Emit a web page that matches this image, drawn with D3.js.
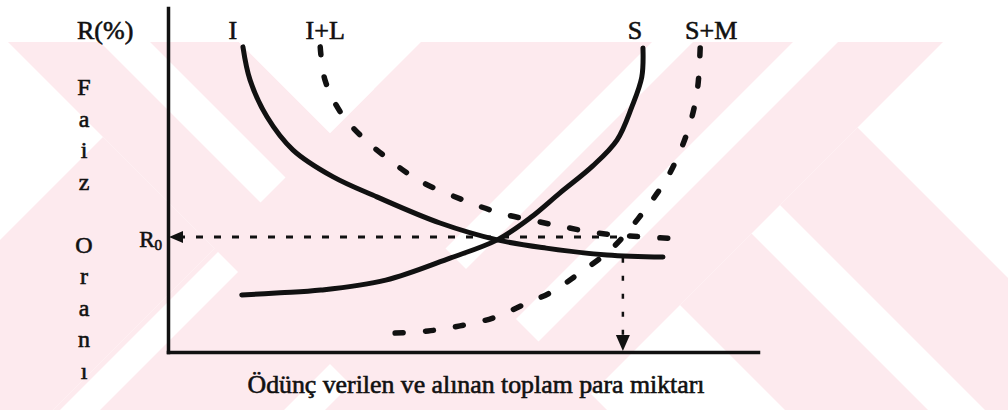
<!DOCTYPE html>
<html>
<head>
<meta charset="utf-8">
<script src="https://cdn.jsdelivr.net/npm/d3@7"></script>
<style>
  body { margin: 0; background: #fff; }
  svg { display: block; }
  text { font-family: "Liberation Serif", "Times New Roman", Tinos, serif; }
</style>
</head>
<body>
<div id="chart"></div>
<script>
// curves, in axis units (0-100 on both axes)
const iCurve = [[12.7,88.7],[13.9,79.1],[16.8,68.3],[21.2,58.7],[28.0,50.9],[35.4,45.1],[46.1,37.5],[55.8,32.6],[64.1,30.2],[74.4,28.2],[83.9,27.6]];
const sCurve = [[12.5,16.6],[19.0,17.2],[25.9,18.0],[36.9,20.9],[47.8,27.3],[55.8,32.6],[61.4,39.0],[66.4,46.2],[72.0,54.1],[76.1,61.6],[78.6,71.2],[80.3,79.9],[80.5,88.4]];
const ilCurve = [[25.8,88.7],[26.6,79.1],[29.2,69.8],[32.9,62.5],[36.9,56.7],[42.4,50.0],[50.0,44.2],[56.3,40.4],[62.2,38.1],[67.3,36.3],[72.7,34.6],[78.3,33.7],[84.7,33.1]];
const smCurve = [[38.5,5.5],[44.1,6.1],[49.5,7.6],[55.1,9.9],[60.2,13.7],[65.3,17.7],[69.8,23.0],[74.4,28.8],[77.1,33.4],[81.7,43.3],[84.7,50.9],[87.1,59.6],[88.8,68.3],[89.8,77.3],[90.2,88.4]];

const seriesNames = ["I", "I+L", "S", "S+M"];
const r0Level = 33.4;     // R0
const newQty = 77.1;      // quantity at the new equilibrium
const dropTop = 27.4;     // where the vertical guide starts
const yTitle = "R(%)";
const yLetters = ["F","a","i","z","","O","r","a","n","ı"];
const xTitle = "Ödünç verilen ve alınan toplam para miktarı";

const W = 1008, H = 410;
const ink = "#111";
const pink = "#fdeaee";

const svg = d3.select("#chart")
  .append("svg")
  .attr("width", W)
  .attr("height", H);

svg.append("rect").attr("width", W).attr("height", H).attr("fill", "#fff");

// background watermark (diagonal pink ribbons), u = x - y, v = x + y
const BIG = 3000;
const wmPink = [
  {u:[-34,197], v:[-BIG,BIG]},
  {u:[-BIG,BIG], v:[463,694]},
  {u:[-BIG,-34], v:[240,463]},
  {u:[-BIG,BIG], v:[735,985]},
  {u:[375,518], v:[985,BIG]},
  {u:[575,730], v:[985,BIG]}
];
const wmWhite = [
  {u:[58,108], v:[-BIG,463]},
  {u:[-BIG,-34], v:[470,510]},
  {u:[197,BIG], v:[835,880]},
  {u:[197,285], v:[-BIG,463]}
];
const toXY = (u, v) => [(u + v) / 2, (v - u) / 2];
const band = b => [toXY(b.u[0], b.v[0]), toXY(b.u[1], b.v[0]), toXY(b.u[1], b.v[1]), toXY(b.u[0], b.v[1])]
  .map(p => p.join(",")).join(" ");

svg.append("clipPath").attr("id", "wm-clip")
  .append("rect").attr("x", 0).attr("y", 42).attr("width", W).attr("height", H - 42);

const wm = svg.append("g").attr("clip-path", "url(#wm-clip)");
wm.selectAll(".wp").data(wmPink).enter().append("polygon")
  .attr("class", "wp").attr("points", band).attr("fill", pink);
wm.selectAll(".ww").data(wmWhite).enter().append("polygon")
  .attr("class", "ww").attr("points", band).attr("fill", "#fff");

// scales
const x = d3.scaleLinear().domain([0, 100]).range([168, 758]);
const y = d3.scaleLinear().domain([0, 100]).range([352, 8]);

const line = d3.line()
  .x(d => x(d[0]))
  .y(d => y(d[1]))
  .curve(d3.curveCatmullRom.alpha(0.5));

// axes (no ticks, just the frame lines)
svg.append("g")
  .attr("class", "y-axis")
  .attr("transform", `translate(${x(0)},0)`)
  .call(d3.axisLeft(y).tickValues([]).tickSizeOuter(0));
svg.append("g")
  .attr("class", "x-axis")
  .attr("transform", `translate(0,${y(0)})`)
  .call(d3.axisBottom(x).tickValues([]).tickSizeOuter(0));
svg.selectAll(".domain")
  .attr("stroke", ink)
  .attr("stroke-width", 3.5)
  .attr("stroke-linecap", "square");

// R0 guide
svg.append("line")
  .attr("x1", x(0) + 10).attr("x2", x(newQty))
  .attr("y1", y(r0Level)).attr("y2", y(r0Level))
  .attr("stroke", ink).attr("stroke-width", 3)
  .attr("stroke-dasharray", "7,11");
svg.append("path")
  .attr("d", `M${x(0) + 1},${y(r0Level)} l14,-6 l0,12 z`)
  .attr("fill", ink);

// drop to the quantity axis
svg.append("line")
  .attr("x1", x(newQty)).attr("x2", x(newQty))
  .attr("y1", y(dropTop)).attr("y2", y(0) - 14)
  .attr("stroke", ink).attr("stroke-width", 2.5)
  .attr("stroke-dasharray", "5,13");
svg.append("path")
  .attr("d", `M${x(newQty)},${y(0) - 1} l-7,-16 l14,0 z`)
  .attr("fill", ink);

// curves
const series = [
  {name: "I", pts: iCurve, dashed: false, dx: -10},
  {name: "I+L", pts: ilCurve, dashed: true, dx: 5},
  {name: "S", pts: sCurve, dashed: false, dx: -8},
  {name: "S+M", pts: smCurve, dashed: true, dx: 11}
];

const dashLen = 8;
svg.selectAll(".curve")
  .data(series)
  .enter()
  .append("path")
  .attr("class", "curve")
  .attr("d", d => line(d.pts))
  .attr("fill", "none")
  .attr("stroke", ink)
  .attr("stroke-width", d => d.dashed ? 5.5 : 5)
  .attr("stroke-linecap", "round")
  .each(function(d) {
    if (!d.dashed) return;
    // fit the dash period so both ends finish on a dash
    const L = this.getTotalLength();
    const n = Math.round((L - dashLen) / 31);
    const gap = (L - dashLen) / n - dashLen;
    d3.select(this).attr("stroke-dasharray", `${dashLen},${gap}`);
  });

const txt = svg.append("g").attr("fill", ink).attr("stroke", ink).attr("stroke-width", 0.6);

// curve names above the top ends
txt.selectAll(".cname")
  .data(series)
  .enter()
  .append("text")
  .attr("class", "cname")
  .attr("x", d => x(d3.greatest(d.pts, p => p[1])[0]) + d.dx)
  .attr("y", 39)
  .attr("text-anchor", "middle")
  .style("font-size", "26px")
  .text(d => d.name);

txt.append("text")
  .attr("x", 77).attr("y", 39)
  .style("font-size", "26px")
  .text(yTitle);

txt.selectAll(".yl")
  .data(yLetters)
  .enter()
  .append("text")
  .attr("class", "yl")
  .attr("x", 84)
  .attr("y", (d, i) => 95 + i * 31.5)
  .attr("text-anchor", "middle")
  .style("font-size", "24px")
  .text(d => d);

const r0 = txt.append("text")
  .attr("x", x(0) - 6).attr("y", y(r0Level) + 10)
  .attr("text-anchor", "end")
  .style("font-size", "23px");
r0.append("tspan").text("R");
r0.append("tspan").attr("dy", 3).style("font-size", "15px").text("0");

txt.append("text")
  .attr("x", 476).attr("y", 393)
  .attr("text-anchor", "middle")
  .attr("textLength", 457)
  .attr("lengthAdjust", "spacingAndGlyphs")
  .style("font-size", "25px")
  .text(xTitle);
</script>
</body>
</html>
